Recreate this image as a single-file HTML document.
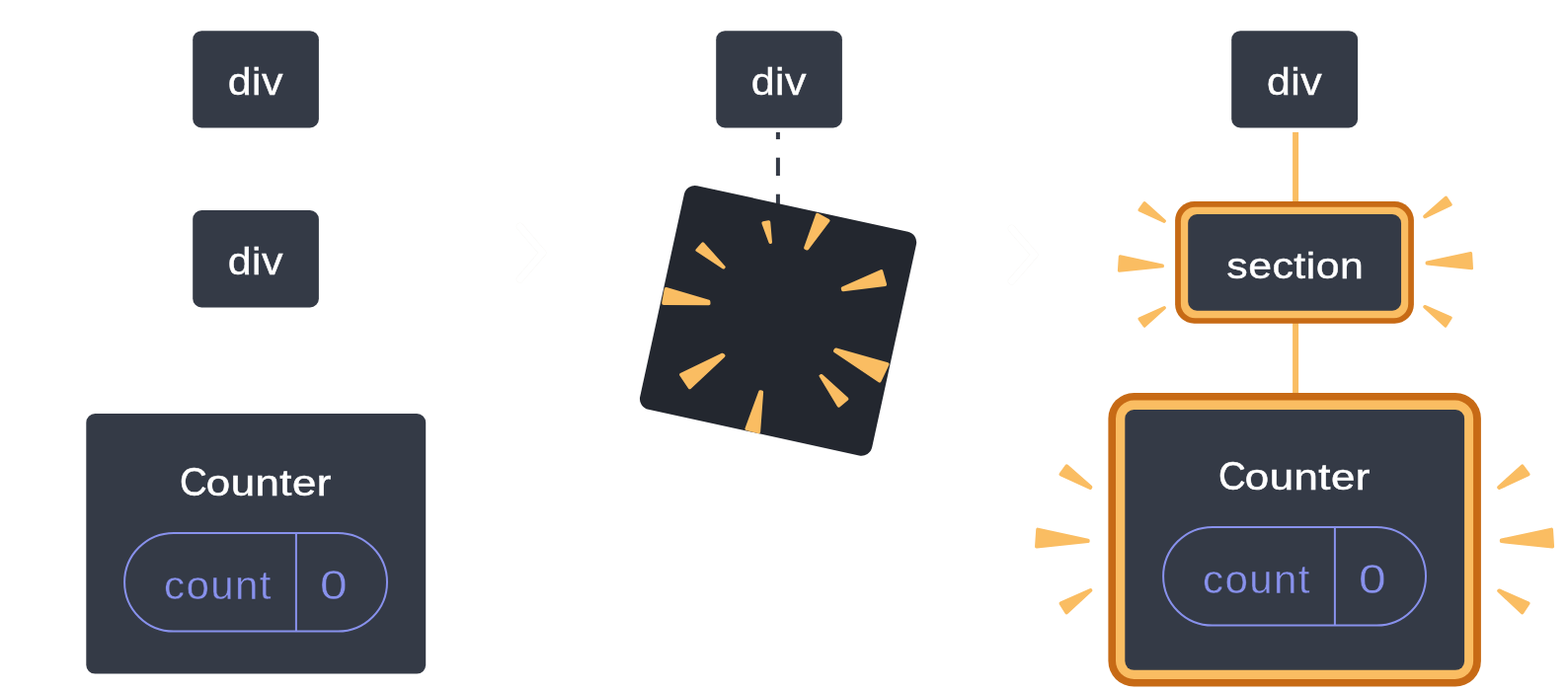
<!DOCTYPE html>
<html lang="en">
<head>
<meta charset="utf-8">
<title>Preserving state: div, section, Counter</title>
<style>
html,body{margin:0;padding:0;background:#fff;}
body{width:1588px;height:700px;overflow:hidden;position:relative;font-family:"Liberation Sans",Arial,sans-serif;}
#diagram{position:absolute;left:0;top:0;width:1588px;height:700px;overflow:hidden;}
#shapes{position:absolute;left:0;top:0;display:block;}
.t{position:absolute;left:0;top:0;white-space:nowrap;font-size:40px;line-height:0;height:0;transform-origin:0 0;
   font-family:"Liberation Sans",Arial,sans-serif;font-weight:400;}
.t{will-change:transform;backface-visibility:hidden;}
.w{color:#fff;-webkit-text-stroke:0.4px #fff;letter-spacing:0.4px;}
.c{-webkit-text-stroke:0.5px #fff;}
.cap{display:inline-block;font-size:1.11em;line-height:0;transform:scaleX(0.79);transform-origin:0 100%;margin-right:-0.18em;}
.p{color:#8891EC;letter-spacing:1.3px;-webkit-text-stroke:0.4px #343A46;}
</style>
</head>
<body>
<div id="diagram">
<svg id="shapes" width="1588" height="700" viewBox="0 0 1588 700">
<rect x="785.9" y="134.00" width="4" height="7.10" fill="#343A46"/>
<rect x="785.9" y="159.70" width="4" height="18.30" fill="#343A46"/>
<rect x="785.9" y="196.70" width="4" height="13.30" fill="#343A46"/>
<rect x="667.82" y="208.80" width="240.50" height="232.00" rx="11.0" fill="#23272F" transform="rotate(12.30 788.07 324.80)"/>
<path d="M771.52 226.73 A1.80 1.80 0 0 1 772.84 224.35 L778.08 223.25 A1.80 1.80 0 0 1 780.24 224.86 L781.99 245.26 A1.55 1.55 0 0 1 780.62 246.94 L780.41 246.96 A1.80 1.80 0 0 1 778.51 245.79 Z" fill="#FABD62"/>
<path d="M705.27 254.87 A1.80 1.80 0 0 1 704.92 252.16 L710.49 245.92 A1.80 1.80 0 0 1 713.17 245.92 L734.24 269.41 A1.70 1.70 0 0 1 734.17 271.75 L733.97 271.95 A1.80 1.80 0 0 1 731.72 272.18 Z" fill="#FABD62"/>
<path d="M672.76 292.50 A1.80 1.80 0 0 1 675.04 291.09 L718.11 303.82 A1.80 1.80 0 0 1 719.39 305.39 L719.55 307.23 A1.80 1.80 0 0 1 717.75 309.19 L671.98 308.91 A1.80 1.80 0 0 1 670.22 306.80 Z" fill="#FABD62"/>
<path d="M826.13 217.04 A1.80 1.80 0 0 1 828.68 216.06 L839.60 221.91 A1.80 1.80 0 0 1 840.19 224.58 L818.91 252.79 A1.80 1.80 0 0 1 816.85 253.39 L815.28 252.80 A1.80 1.80 0 0 1 814.21 250.51 Z" fill="#FABD62"/>
<path d="M891.80 273.22 A1.80 1.80 0 0 1 894.26 274.38 L898.02 287.74 A1.80 1.80 0 0 1 896.51 290.01 L854.16 295.33 A1.80 1.80 0 0 1 852.19 293.98 L851.82 292.50 A1.80 1.80 0 0 1 852.84 290.42 Z" fill="#FABD62"/>
<path d="M845.15 353.33 A1.80 1.80 0 0 1 847.12 352.60 L899.27 367.23 A1.80 1.80 0 0 1 900.41 369.74 L892.42 386.56 A1.80 1.80 0 0 1 889.79 387.28 L844.78 357.09 A1.80 1.80 0 0 1 844.30 354.58 Z" fill="#FABD62"/>
<path d="M831.35 379.12 A1.80 1.80 0 0 1 833.17 379.48 L858.82 402.81 A1.80 1.80 0 0 1 858.75 405.53 L850.63 412.23 A1.80 1.80 0 0 1 847.95 411.77 L829.71 381.62 A1.50 1.50 0 0 1 830.49 379.42 Z" fill="#FABD62"/>
<path d="M730.95 357.87 A1.80 1.80 0 0 1 732.95 358.18 L733.93 359.09 A1.80 1.80 0 0 1 733.93 361.72 L699.78 393.72 A1.80 1.80 0 0 1 697.07 393.42 L688.34 380.61 A1.80 1.80 0 0 1 689.04 377.97 Z" fill="#FABD62"/>
<path d="M768.26 396.44 A1.80 1.80 0 0 1 770.36 395.31 L771.71 395.62 A1.80 1.80 0 0 1 773.10 397.51 L770.13 437.53 A1.80 1.80 0 0 1 767.88 439.14 L755.83 436.01 A1.80 1.80 0 0 1 754.59 433.64 Z" fill="#FABD62"/>
<rect x="1309.1" y="133.9" width="6" height="72" fill="#FABD62"/>
<rect x="1309.1" y="326" width="6" height="74" fill="#FABD62"/>
<path d="M1153.40 214.13 A1.60 1.60 0 0 1 1152.77 211.75 L1157.81 204.71 A1.60 1.60 0 0 1 1160.18 204.45 L1180.47 222.63 A1.60 1.60 0 0 1 1180.74 224.70 L1180.47 225.12 A1.60 1.60 0 0 1 1178.45 225.70 Z" fill="#FABD62"/>
<path d="M1132.81 259.69 A1.60 1.60 0 0 1 1134.74 258.22 L1177.63 267.39 A1.60 1.60 0 0 1 1178.90 268.95 L1178.90 269.72 A1.60 1.60 0 0 1 1177.46 271.32 L1133.66 275.74 A1.60 1.60 0 0 1 1131.90 274.05 Z" fill="#FABD62"/>
<path d="M1152.76 323.96 A1.60 1.60 0 0 1 1153.41 321.58 L1178.50 310.17 A1.60 1.60 0 0 1 1180.47 310.70 L1180.67 310.98 A1.60 1.60 0 0 1 1180.44 313.10 L1160.19 331.34 A1.60 1.60 0 0 1 1157.81 331.08 Z" fill="#FABD62"/>
<path d="M1463.29 198.96 A1.60 1.60 0 0 1 1465.68 199.27 L1470.51 206.48 A1.60 1.60 0 0 1 1469.86 208.82 L1443.72 221.15 A1.60 1.60 0 0 1 1441.65 220.49 L1441.35 219.96 A1.60 1.60 0 0 1 1441.69 217.98 Z" fill="#FABD62"/>
<path d="M1489.16 255.02 A1.60 1.60 0 0 1 1491.09 256.49 L1492.01 271.65 A1.60 1.60 0 0 1 1490.24 273.34 L1445.03 268.62 A1.60 1.60 0 0 1 1443.60 267.03 L1443.60 266.05 A1.60 1.60 0 0 1 1444.87 264.49 Z" fill="#FABD62"/>
<path d="M1441.65 309.68 A1.60 1.60 0 0 1 1443.64 309.07 L1469.80 320.51 A1.60 1.60 0 0 1 1470.50 322.85 L1465.19 330.90 A1.60 1.60 0 0 1 1462.78 331.20 L1441.71 312.06 A1.60 1.60 0 0 1 1441.43 310.02 Z" fill="#FABD62"/>
<path d="M1073.72 482.18 A1.90 1.90 0 0 1 1072.96 479.36 L1078.73 471.18 A1.90 1.90 0 0 1 1081.53 470.85 L1105.73 492.04 A1.90 1.90 0 0 1 1106.04 494.54 L1105.61 495.16 A1.90 1.90 0 0 1 1103.25 495.81 Z" fill="#FABD62"/>
<path d="M1049.18 536.43 A1.90 1.90 0 0 1 1051.48 534.70 L1102.24 545.80 A1.90 1.90 0 0 1 1103.72 547.89 L1103.66 548.38 A1.90 1.90 0 0 1 1101.97 550.03 L1050.12 555.50 A1.90 1.90 0 0 1 1048.03 553.48 Z" fill="#FABD62"/>
<path d="M1072.84 612.33 A1.90 1.90 0 0 1 1073.68 609.57 L1103.66 596.32 A1.90 1.90 0 0 1 1105.90 596.86 L1106.04 597.03 A1.65 1.65 0 0 1 1105.88 599.28 L1081.51 621.82 A1.90 1.90 0 0 1 1078.62 621.44 Z" fill="#FABD62"/>
<path d="M1540.37 470.89 A1.90 1.90 0 0 1 1543.19 471.18 L1549.11 479.36 A1.90 1.90 0 0 1 1548.37 482.19 L1519.17 495.84 A1.90 1.90 0 0 1 1516.88 495.30 L1516.60 494.96 A1.90 1.90 0 0 1 1516.81 492.37 Z" fill="#FABD62"/>
<path d="M1570.72 534.70 A1.90 1.90 0 0 1 1573.02 536.44 L1574.08 553.49 A1.90 1.90 0 0 1 1571.98 555.50 L1520.50 550.05 A1.90 1.90 0 0 1 1518.80 548.16 L1518.80 547.39 A1.90 1.90 0 0 1 1520.30 545.54 Z" fill="#FABD62"/>
<path d="M1516.90 597.05 A1.90 1.90 0 0 1 1519.08 596.59 L1548.38 609.56 A1.90 1.90 0 0 1 1549.20 612.35 L1543.10 621.49 A1.90 1.90 0 0 1 1540.22 621.83 L1516.70 599.76 A1.70 1.70 0 0 1 1516.60 597.38 Z" fill="#FABD62"/>
<rect x="1190.10" y="204.00" width="241.80" height="123.80" rx="19.50" fill="#C76A15"/>
<rect x="1195.90" y="209.75" width="230.30" height="112.45" rx="14.50" fill="#FABD62"/>
<rect x="1122.40" y="398.00" width="377.50" height="297.60" rx="26.00" fill="#C76A15"/>
<rect x="1130.00" y="405.60" width="362.10" height="282.30" rx="18.50" fill="#FABD62"/>
<polyline points="526.6,229.6 549.6,256.2 526.6,282.8" fill="none" stroke="#F3F1EC" stroke-opacity="0.4" stroke-width="7.6" stroke-linecap="round" stroke-linejoin="round" stroke-dasharray="0"/>
<polyline points="526.6,229.6 549.6,256.2 526.6,282.8" fill="none" stroke="#FFFFFF" stroke-width="6.6" stroke-linecap="round" stroke-linejoin="round"/>
<polyline points="1024.6,231.6 1047.6,258.2 1024.6,284.8" fill="none" stroke="#F3F1EC" stroke-opacity="0.4" stroke-width="7.6" stroke-linecap="round" stroke-linejoin="round" stroke-dasharray="0"/>
<polyline points="1024.6,231.6 1047.6,258.2 1024.6,284.8" fill="none" stroke="#FFFFFF" stroke-width="6.6" stroke-linecap="round" stroke-linejoin="round"/>
<rect x="195.20" y="31.15" width="127.70" height="98.25" rx="9.00" fill="#343A46"/>
<rect x="195.20" y="213.00" width="127.70" height="98.40" rx="9.00" fill="#343A46"/>
<rect x="87.30" y="419.00" width="343.90" height="263.60" rx="9.00" fill="#343A46"/>
<rect x="725.20" y="31.15" width="127.70" height="98.25" rx="9.00" fill="#343A46"/>
<rect x="1247.20" y="31.15" width="127.90" height="98.25" rx="9.00" fill="#343A46"/>
<rect x="1203.20" y="217.10" width="215.85" height="97.60" rx="9.00" fill="#343A46"/>
<rect x="1139.30" y="415.00" width="343.80" height="263.80" rx="9.00" fill="#343A46"/>
<rect x="126.10" y="539.90" width="265.90" height="99.70" rx="49.85" fill="none" stroke="#8891EC" stroke-width="2.0"/><rect x="298.90" y="539.90" width="2" height="99.70" fill="#8891EC"/>
<rect x="1178.10" y="533.90" width="265.90" height="99.70" rx="49.85" fill="none" stroke="#8891EC" stroke-width="2.0"/><rect x="1350.90" y="533.90" width="2" height="99.70" fill="#8891EC"/>
</svg>
<span class="t w" id="div1" style="font-size:38.00px;transform:translate(230.65px,83.00px) scaleX(1.1313)">div</span>
<span class="t w" id="div2" style="font-size:38.00px;transform:translate(230.65px,265.00px) scaleX(1.1313)">div</span>
<span class="t w" id="div3" style="font-size:38.00px;transform:translate(760.65px,83.00px) scaleX(1.1313)">div</span>
<span class="t w" id="div4" style="font-size:38.00px;transform:translate(1282.95px,83.00px) scaleX(1.1283)">div</span>
<span class="t w" id="section" style="font-size:37.00px;transform:translate(1242.30px,269.50px) scaleX(1.1571)">section</span>
<span class="t w c" id="Counter1" style="font-size:36.00px;transform:translate(181.97px,487.50px) scaleX(1.2162)"><span class="cap">C</span>ounter</span>
<span class="t w c" id="Counter3" style="font-size:36.00px;transform:translate(1233.97px,481.50px) scaleX(1.2162)"><span class="cap">C</span>ounter</span>
<span class="t p" id="count1" style="font-size:41.00px;transform:translate(166.11px,593.00px) scaleX(1.0278)">count</span>
<span class="t p" id="zero1" style="font-size:43.00px;transform:translate(323.92px,592.00px) scaleX(1.1579)">0</span>
<span class="t p" id="count3" style="font-size:41.00px;transform:translate(1218.11px,587.00px) scaleX(1.0278)">count</span>
<span class="t p" id="zero3" style="font-size:43.00px;transform:translate(1375.92px,586.00px) scaleX(1.1579)">0</span>
</div>
</body>
</html>
